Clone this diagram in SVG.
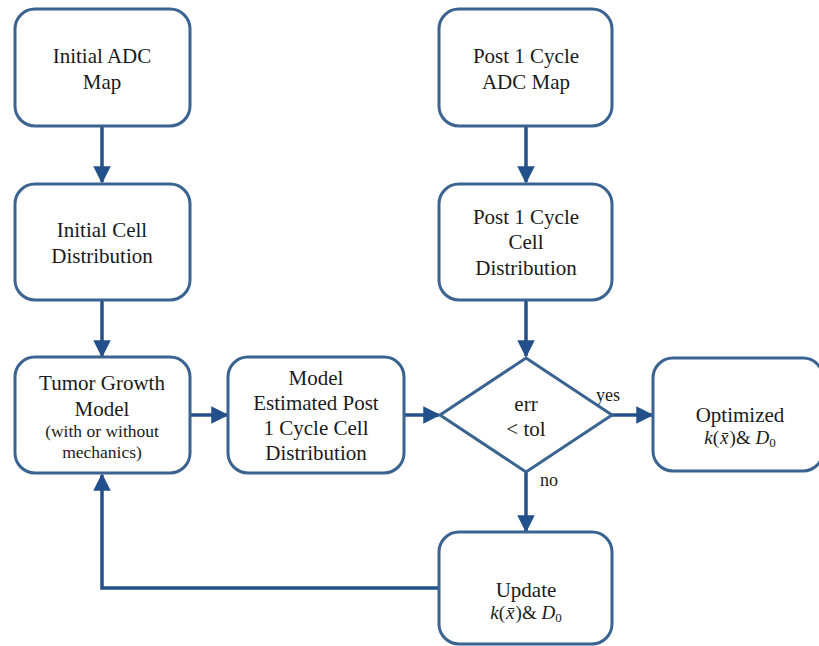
<svg xmlns="http://www.w3.org/2000/svg" width="819" height="646" viewBox="0 0 819 646">
<style>
text{font-family:"Liberation Serif","Times New Roman","DejaVu Serif",serif}
.t{font-size:21px;fill:#1a1a1a;text-anchor:middle}
.s{font-size:17.5px}
.l{font-size:18px}
.m{font-size:19px}
.i{font-style:italic}
.box{fill:#fff;stroke:#3A6391;stroke-width:3}
.c{fill:none;stroke:#23508A;stroke-width:3.5}
</style>
<defs>
<marker id="ah" viewBox="0 0 10 10" refX="9" refY="5" markerWidth="5" markerHeight="5" markerUnits="strokeWidth" orient="auto">
<path d="M0,0 L10,5 L0,10 z" fill="#23508A"/>
</marker>
</defs>
<rect width="819" height="646" fill="#fff"/>
<g id="connectors">
<line class="c" x1="102" y1="127" x2="102" y2="182" marker-end="url(#ah)"/>
<line class="c" x1="102" y1="301" x2="102" y2="356" marker-end="url(#ah)"/>
<line class="c" x1="191" y1="415" x2="227" y2="415" marker-end="url(#ah)"/>
<line class="c" x1="405" y1="415" x2="439" y2="415" marker-end="url(#ah)"/>
<line class="c" x1="612" y1="415" x2="652" y2="415" marker-end="url(#ah)"/>
<line class="c" x1="526" y1="127" x2="526" y2="182" marker-end="url(#ah)"/>
<line class="c" x1="526" y1="301" x2="526" y2="356" marker-end="url(#ah)"/>
<line class="c" x1="526" y1="472" x2="526" y2="531" marker-end="url(#ah)"/>
<polyline class="c" points="439,588 102,588 102,475" marker-end="url(#ah)"/>
<text class="t l" x="608" y="401">yes</text>
<text class="t l" x="549" y="486">no</text>
</g>
<g id="initial-adc">
<rect class="box" x="15" y="9" width="175" height="117" rx="20"/>
<text class="t" x="102" y="63">Initial ADC</text>
<text class="t" x="102" y="89">Map</text>
</g>
<g id="initial-cell">
<rect class="box" x="15" y="184" width="175" height="116" rx="20"/>
<text class="t" x="102" y="237">Initial Cell</text>
<text class="t" x="102" y="263">Distribution</text>
</g>
<g id="tumor-model">
<rect class="box" x="15" y="357" width="175" height="116" rx="20"/>
<text class="t" x="102" y="390">Tumor Growth</text>
<text class="t" x="102" y="416">Model</text>
<text class="t s" x="102" y="437">(with or without</text>
<text class="t s" x="102" y="458">mechanics)</text>
</g>
<g id="model-estimated">
<rect class="box" x="228" y="357" width="176" height="116" rx="20"/>
<text class="t" x="316" y="385" font-size="20.5">Model</text>
<text class="t" x="316" y="410" font-size="20.5">Estimated Post</text>
<text class="t" x="316" y="435" font-size="20.5">1 Cycle Cell</text>
<text class="t" x="316" y="460" font-size="20.5">Distribution</text>
</g>
<g id="post-adc">
<rect class="box" x="439" y="9" width="173" height="117" rx="20"/>
<text class="t" x="526" y="63">Post 1 Cycle</text>
<text class="t" x="526" y="89">ADC Map</text>
</g>
<g id="post-cell">
<rect class="box" x="439" y="184" width="173" height="116" rx="20"/>
<text class="t" x="526" y="224">Post 1 Cycle</text>
<text class="t" x="526" y="249">Cell</text>
<text class="t" x="526" y="275">Distribution</text>
</g>
<g id="decision">
<polygon class="box" points="526,358 612,415 526,472 440,415"/>
<text class="t" x="526" y="411">err</text>
<text class="t" x="526" y="436">&lt; tol</text>
</g>
<g id="optimized">
<rect class="box" x="653" y="358" width="170" height="113" rx="20"/>
<text class="t" x="740" y="422">Optimized</text>
<text class="t m" x="740" y="444"><tspan class="i">k</tspan>(<tspan class="i" dx="1">x̄</tspan><tspan dx="1">)</tspan>&amp; <tspan class="i">D</tspan><tspan font-size="13" dy="3">0</tspan></text>
</g>
<g id="update">
<rect class="box" x="439" y="532" width="173" height="112" rx="20"/>
<text class="t" x="526" y="597">Update</text>
<text class="t m" x="526" y="619"><tspan class="i">k</tspan>(<tspan class="i" dx="1">x̄</tspan><tspan dx="1">)</tspan>&amp; <tspan class="i">D</tspan><tspan font-size="13" dy="3">0</tspan></text>
</g>
</svg>
